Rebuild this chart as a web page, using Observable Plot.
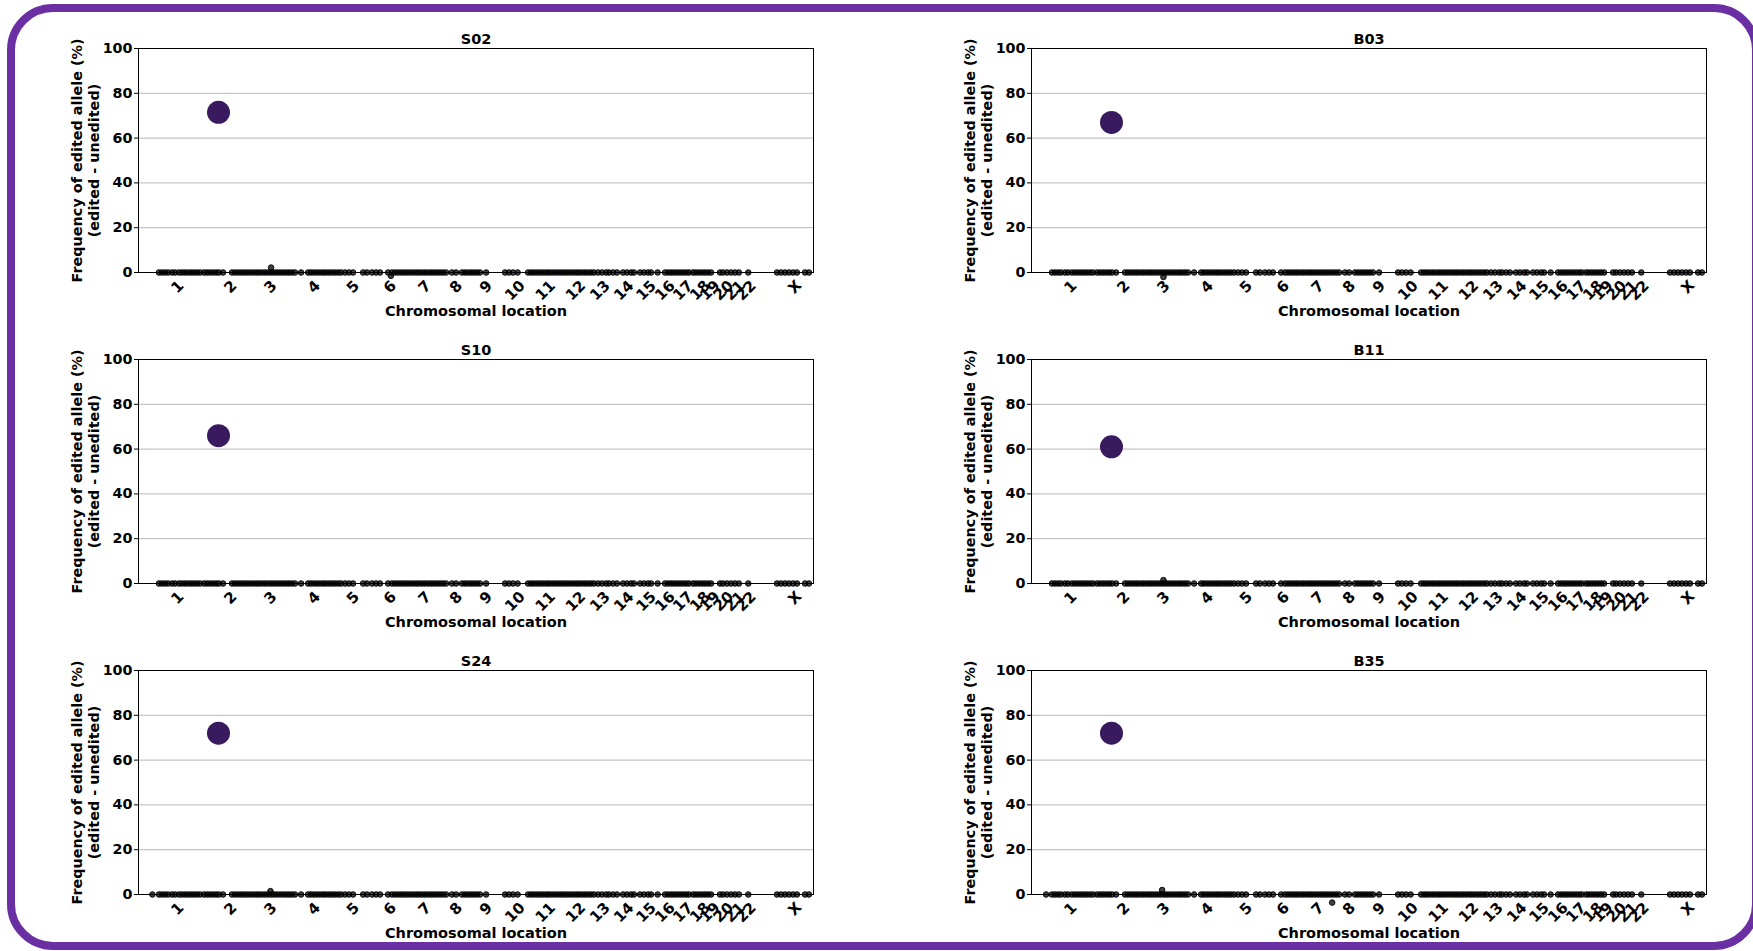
<!DOCTYPE html>
<html><head><meta charset="utf-8">
<script src="https://cdn.jsdelivr.net/npm/d3@7"></script>
<script src="https://cdn.jsdelivr.net/npm/@observablehq/plot@0.6"></script>
<style>
html,body{margin:0;padding:0;background:#fff;overflow:hidden;}
#wrap{position:relative;width:1753px;height:951px;overflow:hidden;background:#fff;}
#border{position:absolute;left:7px;top:4px;width:1753px;height:946px;box-sizing:border-box;border:8px solid #6a2fa3;border-radius:46px;}
.panel{position:absolute;}
</style></head><body><div id="wrap"><div id="border"></div></div>
<script>
// ---- data ----
const panelNames = ["S02", "B03", "S10", "B11", "S24", "B35"];
const peakPos = 368; // genomic position (Mb, cumulative) of the on-target site
const peakValues = [71.5, 67, 66, 61, 72, 72];
const yTicks = [0, 20, 40, 60, 80, 100];
const chromLabels = ["1","2","3","4","5","6","7","8","9","10","11","12","13","14","15","16","17","18","19","20","21","22","X"];
const chromTickPos = [180, 423, 607, 807, 987, 1157, 1317, 1461, 1599, 1732, 1872, 2011, 2123, 2233, 2335, 2422, 2505, 2583, 2629, 2691, 2743, 2795, 3020];
// off-target sites tested (cumulative Mb), frequency ~0
const sitePositions = [
  94, 108, 122, 136, 154, 168, 186,
  200, 214, 228, 242, 255, 269, 283,
  301, 315, 329, 343, 357, 370, 389,
  430, 444, 458, 472, 485, 499, 513, 527, 541, 554, 568, 582, 596,
  610, 623, 637, 651, 665, 679,
  692, 706, 720, 748,
  780, 793, 807, 821, 835, 849, 862, 876, 890, 904,
  918, 932, 950, 968, 987,
  1033, 1051, 1074, 1093, 1111, 1148, 1166,
  1180, 1194, 1208, 1221, 1235, 1249, 1263, 1277, 1290, 1304, 1318, 1332, 1346, 1359, 1373, 1387, 1401, 1415,
  1442, 1461,
  1488, 1502, 1516, 1530, 1543, 1557, 1571, 1599,
  1686, 1704, 1723, 1744,
  1792, 1806, 1819, 1833, 1847, 1861, 1875, 1888, 1902, 1916, 1930, 1944, 1957, 1971, 1985, 1999, 2013, 2026, 2040, 2054, 2068, 2082,
  2095, 2114, 2132, 2151, 2164, 2183, 2201,
  2229, 2247, 2266, 2279, 2307, 2325, 2344, 2358, 2388,
  2422, 2436, 2450, 2463, 2477, 2491, 2505, 2519, 2532,
  2551, 2564, 2578, 2592, 2606, 2620, 2634,
  2675, 2689, 2707, 2726, 2744, 2762, 2805,
  2937, 2956, 2974, 2992, 3011, 3029, 3066, 3084
];
const siteValue = 0;
// per-panel sites deviating from zero (or extra sites)
const extraPos = [[610, 1161], [607], [], [607], [64, 607], [67, 601, 1383]];
const extraVal = [[2.2, -1.5], [-2], [], [1.5], [0, 1.5], [0, 2, -3.6]];

// ---- layout ----
const plotW = 675, plotH = 224;
const mL = 100, mR = 20, mT = 40, mB = 75;
const colLeft = [137.5, 1030.5];
const rowTop = [48, 359, 669.5];
const FONT = "DejaVu Sans";

const wrap = document.getElementById("wrap");
const one = chromLabels.map((l, j) => ({l, pos: chromTickPos[j]})).filter(d => d.l.length === 1);
const two = chromLabels.map((l, j) => ({l, pos: chromTickPos[j]})).filter(d => d.l.length === 2);

panelNames.forEach((name, i) => {
  const dots = sitePositions.map(p => ({pos: p, value: siteValue}))
    .concat(extraPos[i].map((p, k) => ({pos: p, value: extraVal[i][k]})));
  const txt = {fontWeight: "bold", fill: "black", textAnchor: "middle", lineAnchor: "middle"};
  const chart = Plot.plot({
    width: mL + plotW + mR, height: mT + plotH + mB,
    marginLeft: mL, marginRight: mR, marginTop: mT, marginBottom: mB,
    style: {background: "transparent", fontFamily: FONT, overflow: "visible", maxWidth: "none"},
    x: {domain: [0, 3105], axis: null},
    y: {domain: [0, 100], axis: null},
    marks: [
      Plot.ruleY([20, 40, 60, 80], {stroke: "#b8b8b8", strokeWidth: 1}),
      Plot.axisY({ticks: yTicks, tickSize: 4, tickPadding: 2, fontSize: 14.3, fontWeight: "bold", label: null}),
      Plot.dot(dots, {x: "pos", y: "value", r: 2.8, fill: "#000", fillOpacity: 0.75, stroke: "#000", strokeWidth: 0.9}),
      Plot.dot([{pos: peakPos, value: peakValues[i]}], {x: "pos", y: "value", r: 11.5, fill: "#3a1a5e"}),
      Plot.frame({stroke: "black", strokeWidth: 1}),
      Plot.text(one, {x: "pos", frameAnchor: "bottom", text: "l", rotate: -45, dy: 14.5, fontSize: 15, ...txt}),
      Plot.text(two, {x: "pos", frameAnchor: "bottom", text: "l", rotate: -45, dy: 18, fontSize: 15, ...txt}),
      Plot.text([name], {frameAnchor: "top", dy: -9, fontSize: 14.5, ...txt}),
      Plot.text(["Chromosomal location"], {frameAnchor: "bottom", dy: 39, fontSize: 14.5, ...txt}),
      Plot.text(["Frequency of edited allele (%)"], {frameAnchor: "left", dx: -61.5, rotate: -90, fontSize: 14.4, ...txt}),
      Plot.text(["(edited - unedited)"], {frameAnchor: "left", dx: -44.5, rotate: -90, fontSize: 14.4, ...txt})
    ]
  });
  const div = document.createElement("div");
  div.className = "panel";
  div.style.left = (colLeft[i % 2] - mL) + "px";
  div.style.top = (rowTop[Math.floor(i / 2)] - mT) + "px";
  div.appendChild(chart);
  wrap.appendChild(div);
});
</script></body></html>
